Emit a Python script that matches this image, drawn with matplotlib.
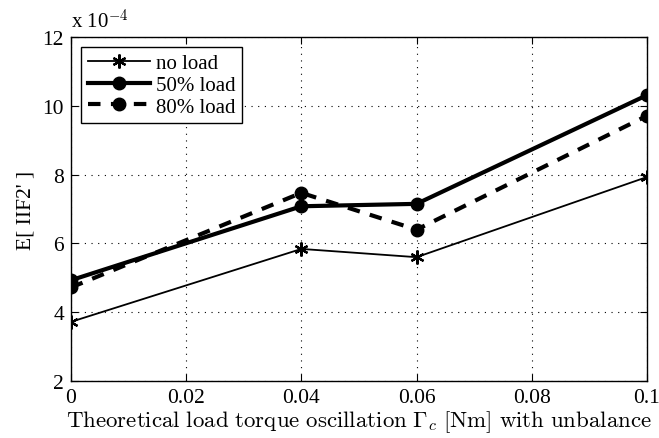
import matplotlib
matplotlib.use("Agg")
import matplotlib.pyplot as plt

plt.rcParams['font.family'] = ['Liberation Serif', 'DejaVu Serif']
plt.rcParams['mathtext.fontset'] = 'cm'

# data (values in units of 1e-4)
gamma_c = [0, 0.04, 0.06, 0.1]
no_load = [3.72, 5.84, 5.60, 7.93]
load_50 = [4.93, 7.08, 7.15, 10.31]
load_80 = [4.72, 7.47, 6.40, 9.71]
xticks = [0, 0.02, 0.04, 0.06, 0.08, 0.1]
xtick_labels = ['0', '0.02', '0.04', '0.06', '0.08', '0.1']
yticks = [2, 4, 6, 8, 10, 12]

fig = plt.figure(figsize=(6.59, 4.39), dpi=100)
ax = fig.add_axes([0.1077, 0.1298, 0.874, 0.7836])

ax.plot(gamma_c, no_load, '-', color='k', lw=1.3, marker=(6, 2, 0), ms=10, mew=1.6,
        label='no load')
ax.plot(gamma_c, load_50, '-', color='k', lw=3, marker='o', ms=9, label='50% load')
ax.plot(gamma_c, load_80, '--', color='k', lw=3, marker='o', ms=9,
        dashes=(3, 2.5), label='80% load')

ax.set_xlim(0, 0.1)
ax.set_ylim(2, 12)
ax.set_xticks(xticks)
ax.set_xticklabels(xtick_labels)
ax.set_yticks(yticks)
ax.tick_params(direction='in', top=True, right=True, labelsize=15.5, length=5, pad=5)
ax.grid(True, linestyle=(0, (1, 5)), color='k', lw=0.8)
for s in ax.spines.values():
    s.set_linewidth(1.0)

ax.text(0.0, 1.012, r'x 10$^{-4}$', transform=ax.transAxes, fontsize=15,
        ha='left', va='bottom')

ax.set_xlabel(r'$\mathrm{Theoretical\ load\ torque\ oscillation}\ \Gamma_c\ \mathrm{[Nm]\ with\ unbalance}$',
              fontsize=16.5, labelpad=1)
ax.set_ylabel("E[ IIF2' ]", fontsize=15.5, labelpad=5)

leg = ax.legend(loc='upper left', fontsize=15, fancybox=False, edgecolor='k',
                framealpha=1, handlelength=3.0, borderaxespad=0.5,
                labelspacing=0.1, handletextpad=0.3, borderpad=0.3)
leg.get_frame().set_linewidth(1.0)

fig.savefig('out.png', dpi=100)
